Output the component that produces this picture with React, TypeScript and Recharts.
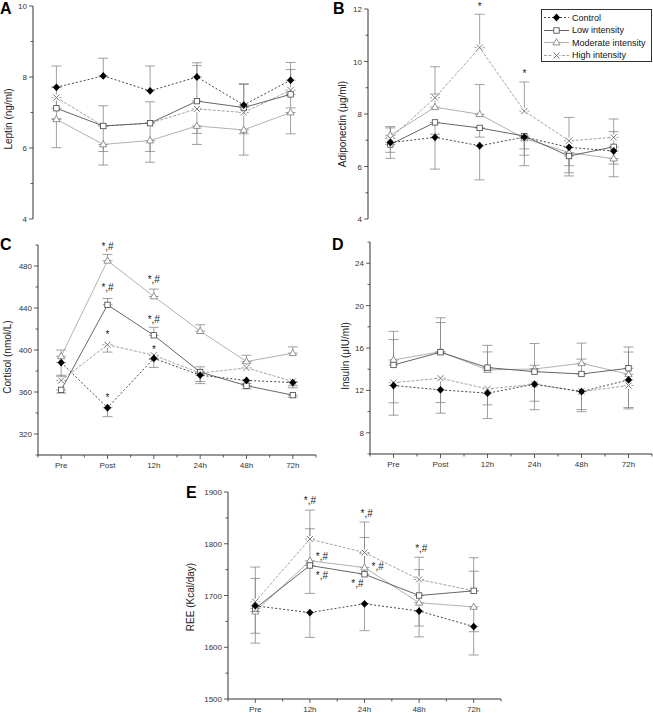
import React from 'react';
import { ComposedChart, Line, XAxis, YAxis, ErrorBar, ReferenceDot } from 'recharts';

const PAGE_W = 653;
const PAGE_H = 713;

const timePoints = ['Pre', 'Post', '12h', '24h', '48h', '72h'];
const reeTimePoints = ['Pre', '12h', '24h', '48h', '72h'];
const groupNames = ['Control', 'Low intensity', 'Moderate intensity', 'High intensity'];

// error values: positive = bar drawn upward, negative = downward (one-sided SD bars)

// A - leptin (ng/ml)
const leptinControl = [7.71, 8.03, 7.61, 8.0, 7.21, 7.91];
const leptinLow = [7.12, 6.62, 6.7, 7.32, 7.14, 7.51];
const leptinModerate = [6.81, 6.1, 6.21, 6.62, 6.51, 7.0];
const leptinHigh = [7.42, 6.62, 6.7, 7.1, 7.0, 7.63];
const leptinControlErr = [0.6, 0.5, 0.7, 0.4, 0.6, 0.5];
const leptinLowErr = [0.6, 0.57, 0.6, 1.0, 0.65, 0.7];
const leptinModerateErr = [-0.8, -0.58, -0.61, -0.52, -0.71, -0.6];
const leptinHighErr = [-0.6, -0.72, -0.8, -0.69, -0.6, -0.5];
const leptinTicks = [4, 6, 8, 10];
const leptinMinor = [5, 7, 9];

// B - adiponectin (ug/ml)
const adipoControl = [6.91, 7.11, 6.79, 7.12, 6.73, 6.59];
const adipoLow = [6.84, 7.68, 7.47, 7.16, 6.4, 6.75];
const adipoModerate = [7.19, 8.26, 7.99, 7.07, 6.53, 6.3];
const adipoHigh = [7.07, 8.62, 10.53, 8.11, 6.98, 7.11];
const adipoControlErr = [-0.6, -1.21, -1.3, -1.09, -0.97, -0.5];
const adipoLowErr = [-0.3, -0.45, -0.35, -0.73, -0.76, 0.58];
const adipoModerateErr = [0.33, 0.5, 1.13, -0.4, -0.5, -0.69];
const adipoHighErr = [0.4, 1.18, 1.27, 1.11, 0.89, 0.7];
const adipoTicks = [4, 6, 8, 10, 12];
const adipoMinor = [5, 7, 9, 11];
const adipoNotes = [
  { t: 3, v: 12.19, text: '*' },
  { t: 4, v: 9.64, text: '*' },
];

// C - cortisol (nmol/L)
const cortControl = [388, 345, 392, 376, 371, 369];
const cortLow = [362, 443, 414, 379, 366, 357];
const cortModerate = [394, 485, 451, 418, 389, 397];
const cortHigh = [371, 405, 395, 378, 383, 370];
const cortControlErr = [-13, -8.5, -8.6, -8, -3, -3];
const cortLowErr = [-3, 6, 7.6, 5, -3, -2];
const cortModerateErr = [6, 6, 7, 6, 6, 6];
const cortHighErr = [5, -7, -4, -8, 4.5, -6];
const cortTicks = [320, 360, 400, 440, 480];
const cortMinor = [300, 340, 380, 420, 460, 500];
const cortNotes = [
  { t: 2, v: 499, text: '*,#' },
  { t: 3, v: 467.6, text: '*,#' },
  { t: 2, v: 460, text: '*,#' },
  { t: 3, v: 429.5, text: '*,#' },
  { t: 2, v: 417, text: '*' },
  { t: 3, v: 403, text: '*' },
  { t: 2, v: 357, text: '*' },
];

// D - insulin (uIU/ml)
const insControl = [12.46, 12.05, 11.74, 12.58, 11.89, 12.99];
const insLow = [14.4, 15.6, 14.15, 13.77, 13.55, 14.09];
const insModerate = [14.87, 15.65, 13.93, 14.02, 14.56, 13.52];
const insHigh = [12.73, 13.15, 12.14, 12.58, 11.89, 12.46];
const insControlErr = [-2.8, -2.2, -2.4, -2.4, -1.9, -2.6];
const insLowErr = [2.4, 2.8, 2.1, 0.6, 1.4, 2.0];
const insModerateErr = [2.7, 3.2, 1.7, 2.4, 1.9, 2.1];
const insHighErr = [-1.9, -2.3, -1.5, -1.6, -1.7, -2.2];
const insTicks = [8, 12, 16, 20, 24];
const insMinor = [6, 10, 14, 18, 22, 26];

// E - REE (Kcal/day)
const reeControl = [1680, 1667, 1684, 1670, 1640];
const reeLow = [1675, 1758, 1741, 1700, 1709];
const reeModerate = [1669, 1767, 1754, 1686, 1678];
const reeHigh = [1688, 1809, 1783, 1731, 1709];
const reeControlErr = [-53, -48, -52, -50, -55];
const reeLowErr = [58, -54, 40, 50, 38];
const reeModerateErr = [-61, 62, 58, -45, -48];
const reeHighErr = [67, 56, 59, 43, 64];
const reeTicks = [1500, 1600, 1700, 1800, 1900];
const reeMinor = [1550, 1650, 1750, 1850];
const reeNotes = [
  { t: 2, v: 1884.5, text: '*,#' },
  { t: 2.22, v: 1776, text: '*,#' },
  { t: 2.22, v: 1737.7, text: '*,#' },
  { t: 3.04, v: 1859, text: '*,#' },
  { t: 3.24, v: 1755.7, text: '*,#' },
  { t: 2.87, v: 1723.5, text: '*,#' },
  { t: 4.04, v: 1791, text: '*,#' },
];

const FONT = '"Liberation Sans", Arial, Helvetica, sans-serif';
const keys = ['control', 'low', 'moderate', 'high'];
const lineStyle: Record<string, { stroke: string; dash?: string }> = {
  control: { stroke: '#333', dash: '2 2' },
  low: { stroke: '#555' },
  moderate: { stroke: '#a8a8a8' },
  high: { stroke: '#9a9a9a', dash: '3 1.5' },
};
const drawOrder = ['moderate', 'high', 'low', 'control'];

const Marker = ({ kind, cx, cy }: { kind: string; cx: number; cy: number }) => {
  if (cx == null || cy == null) return null;
  if (kind === 'control')
    return <path d={`M${cx},${cy - 3.9}L${cx + 3.6},${cy}L${cx},${cy + 3.9}L${cx - 3.6},${cy}Z`} fill="#000" />;
  if (kind === 'low')
    return <rect x={cx - 2.7} y={cy - 2.7} width={5.4} height={5.4} fill="#fff" stroke="#444" strokeWidth={0.8} />;
  if (kind === 'moderate')
    return <path d={`M${cx},${cy - 3.8}L${cx + 3.6},${cy + 2.4}L${cx - 3.6},${cy + 2.4}Z`} fill="#fff" stroke="#777" strokeWidth={0.8} />;
  // white backing hides the error-bar cap that sits on the point itself
  return (
    <g>
      <rect x={cx - 3} y={cy - 3} width={6} height={6} fill="#fff" />
      <path d={`M${cx - 3},${cy - 3}L${cx + 3},${cy + 3}M${cx + 3},${cy - 3}L${cx - 3},${cy + 3}`} stroke="#666" strokeWidth={0.9} />
    </g>
  );
};

const YTick = (p: any) => {
  const { x, y, payload, majors } = p;
  const major = majors.includes(payload.value);
  return (
    <g>
      <line x1={x - (major ? 4 : 2.5)} x2={x} y1={y} y2={y} stroke="#333" strokeWidth={0.8} />
      {major && (
        <text x={x - 6} y={y} dy={3} textAnchor="end" fontSize={8} fill="#333" fontFamily={FONT}>
          {payload.value}
        </text>
      )}
    </g>
  );
};

const XTick = (p: any) => {
  const { x, y, payload, times } = p;
  const major = Number.isInteger(payload.value);
  return (
    <g>
      <line x1={x} x2={x} y1={y} y2={y + (major ? 4 : 2.5)} stroke="#333" strokeWidth={0.8} />
      {major && (
        <text x={x} y={y + 13} textAnchor="middle" fontSize={8} fill="#333" fontFamily={FONT}>
          {times[payload.value - 1]}
        </text>
      )}
    </g>
  );
};

const NoteText = ({ cx, cy, text }: { cx: number; cy: number; text: string }) => (
  <g opacity={0.99}>
    <text
      x={cx}
      y={cy}
      dy={text === '*' ? 6 : 3.5}
      textAnchor="middle"
      fontSize={10}
      fill="#1a1a1a"
      stroke="none"
      fontFamily={FONT}
    >
      {text}
    </text>
  </g>
);

type Series = { values: number[]; err: number[] };
type Note = { t: number; v: number; text: string };

function buildRows(times: string[], series: Series[]) {
  return times.map((_, i) => {
    const row: any = { t: i + 1 };
    series.forEach((s, k) => {
      row[keys[k]] = s.values[i];
      const e = s.err[i];
      row[keys[k] + 'Err'] = e >= 0 ? [0, e] : [-e, 0];
    });
    return row;
  });
}

type PanelProps = {
  times: string[];
  series: Series[];
  yDomain: [number, number];
  yTicks: number[];
  yMinor: number[];
  notes: Note[];
  box: { left: number; top: number; right: number; bottom: number };
  showX: boolean;
};

const Panel = ({ times, series, yDomain, yTicks, yMinor, notes, box, showX }: PanelProps) => {
  const rows = buildRows(times, series);
  const xTicks: number[] = [];
  for (let k = 1; k <= times.length * 2 + 1; k++) xTicks.push(k / 2);
  const allY = [...yTicks, ...yMinor].sort((a, b) => a - b);
  return (
    <div style={{ position: 'absolute', left: 0, top: 0 }}>
      <ComposedChart
        width={PAGE_W}
        height={PAGE_H}
        data={rows}
        margin={{ left: box.left - 30, top: box.top, right: PAGE_W - box.right, bottom: PAGE_H - box.bottom - (showX ? 20 : 0) }}
      >
        <XAxis
          type="number"
          dataKey="t"
          domain={[0.5, times.length + 0.5]}
          ticks={xTicks}
          interval={0}
          hide={!showX}
          height={20}
          tickSize={0}
          tickMargin={0}
          tickLine={false}
          axisLine={{ stroke: '#333', strokeWidth: 1 }}
          tick={(p: any) => <XTick {...p} times={times} />}
        />
        <YAxis
          type="number"
          domain={yDomain}
          ticks={allY}
          interval={0}
          width={30}
          tickSize={0}
          tickMargin={0}
          tickLine={false}
          allowDataOverflow
          axisLine={{ stroke: '#333', strokeWidth: 1 }}
          tick={(p: any) => <YTick {...p} majors={yTicks} />}
        />
        {drawOrder.map((k) => (
          <Line
            key={k}
            dataKey={k}
            stroke={lineStyle[k].stroke}
            strokeDasharray={lineStyle[k].dash}
            strokeWidth={0.9}
            isAnimationActive={false}
            dot={(p: any) => <Marker key={p.index} kind={k} cx={p.cx} cy={p.cy} />}
            activeDot={false}
          >
            <ErrorBar dataKey={k + 'Err'} width={5} stroke="#888" strokeWidth={0.8} direction="y" />
          </Line>
        ))}
        {notes.map((n, i) => (
          <ReferenceDot
            key={i}
            x={n.t}
            y={n.v}
            r={1}
            ifOverflow="visible"
            shape={(p: any) => <NoteText cx={p.cx} cy={p.cy} text={n.text} />}
          />
        ))}
      </ComposedChart>
    </div>
  );
};

const AxisTitle = ({ x, y, text }: { x: number; y: number; text: string }) => (
  <div
    style={{
      position: 'absolute',
      left: x,
      top: y,
      transform: 'translate(-50%, -50%) rotate(-90deg)',
      whiteSpace: 'nowrap',
      fontSize: 10,
      color: '#222',
      fontFamily: FONT,
      lineHeight: 1,
    }}
  >
    {text}
  </div>
);

const Letter = ({ x, y, text }: { x: number; y: number; text: string }) => (
  <div style={{ position: 'absolute', left: x, top: y, fontSize: 16, fontWeight: 'bold', fontFamily: FONT, lineHeight: 1, color: '#000' }}>
    {text}
  </div>
);

const LegendBox = () => (
  <div
    style={{
      position: 'absolute',
      left: 541,
      top: 9,
      width: 111,
      height: 53,
      border: '1px solid #333',
      boxSizing: 'border-box',
      background: '#fff',
      fontFamily: FONT,
      fontSize: 9,
      color: '#111',
    }}
  >
    {keys.map((k, i) => (
      <div key={k} style={{ position: 'absolute', left: 1, top: 2 + i * 12.5, height: 11, display: 'flex', alignItems: 'center' }}>
        <svg width={27} height={11}>
          <line x1={1} x2={26} y1={5.5} y2={5.5} stroke={lineStyle[k].stroke} strokeDasharray={lineStyle[k].dash} strokeWidth={0.9} />
          <Marker kind={k} cx={13.5} cy={5.5} />
        </svg>
        <span style={{ marginLeft: 2, whiteSpace: 'nowrap' }}>{groupNames[i]}</span>
      </div>
    ))}
  </div>
);

export default function App() {
  return (
    <div style={{ position: 'absolute', left: 0, top: 0, width: PAGE_W, height: PAGE_H, background: '#fff', overflow: 'hidden' }}>
      <Panel
        times={timePoints}
        series={[
          { values: leptinControl, err: leptinControlErr },
          { values: leptinLow, err: leptinLowErr },
          { values: leptinModerate, err: leptinModerateErr },
          { values: leptinHigh, err: leptinHighErr },
        ]}
        yDomain={[4, 10]}
        yTicks={leptinTicks}
        yMinor={leptinMinor}
        notes={[]}
        box={{ left: 33, top: 6, right: 314, bottom: 219 }}
        showX={false}
      />
      <Panel
        times={timePoints}
        series={[
          { values: adipoControl, err: adipoControlErr },
          { values: adipoLow, err: adipoLowErr },
          { values: adipoModerate, err: adipoModerateErr },
          { values: adipoHigh, err: adipoHighErr },
        ]}
        yDomain={[4, 12]}
        yTicks={adipoTicks}
        yMinor={adipoMinor}
        notes={adipoNotes}
        box={{ left: 368, top: 9, right: 636, bottom: 219 }}
        showX={false}
      />
      <Panel
        times={timePoints}
        series={[
          { values: cortControl, err: cortControlErr },
          { values: cortLow, err: cortLowErr },
          { values: cortModerate, err: cortModerateErr },
          { values: cortHigh, err: cortHighErr },
        ]}
        yDomain={[300, 500]}
        yTicks={cortTicks}
        yMinor={cortMinor}
        notes={cortNotes}
        box={{ left: 38, top: 245, right: 316, bottom: 455 }}
        showX
      />
      <Panel
        times={timePoints}
        series={[
          { values: insControl, err: insControlErr },
          { values: insLow, err: insLowErr },
          { values: insModerate, err: insModerateErr },
          { values: insHigh, err: insHighErr },
        ]}
        yDomain={[6, 26]}
        yTicks={insTicks}
        yMinor={insMinor}
        notes={[]}
        box={{ left: 370, top: 242, right: 652, bottom: 454 }}
        showX
      />
      <Panel
        times={reeTimePoints}
        series={[
          { values: reeControl, err: reeControlErr },
          { values: reeLow, err: reeLowErr },
          { values: reeModerate, err: reeModerateErr },
          { values: reeHigh, err: reeHighErr },
        ]}
        yDomain={[1500, 1900]}
        yTicks={reeTicks}
        yMinor={reeMinor}
        notes={reeNotes}
        box={{ left: 228, top: 492, right: 501, bottom: 699 }}
        showX
      />
      <LegendBox />
      <AxisTitle x={9} y={119} text="Leptin (ng/ml)" />
      <AxisTitle x={343} y={124} text="Adiponectin (μg/ml)" />
      <AxisTitle x={8} y={357} text="Cortisol (nmol/L)" />
      <AxisTitle x={346} y={356} text="Insulin (μIU/ml)" />
      <AxisTitle x={191} y={597} text="REE (Kcal/day)" />
      <Letter x={0} y={1} text="A" />
      <Letter x={333} y={1} text="B" />
      <Letter x={0} y={237} text="C" />
      <Letter x={332} y={237} text="D" />
      <Letter x={186} y={485} text="E" />
    </div>
  );
}
